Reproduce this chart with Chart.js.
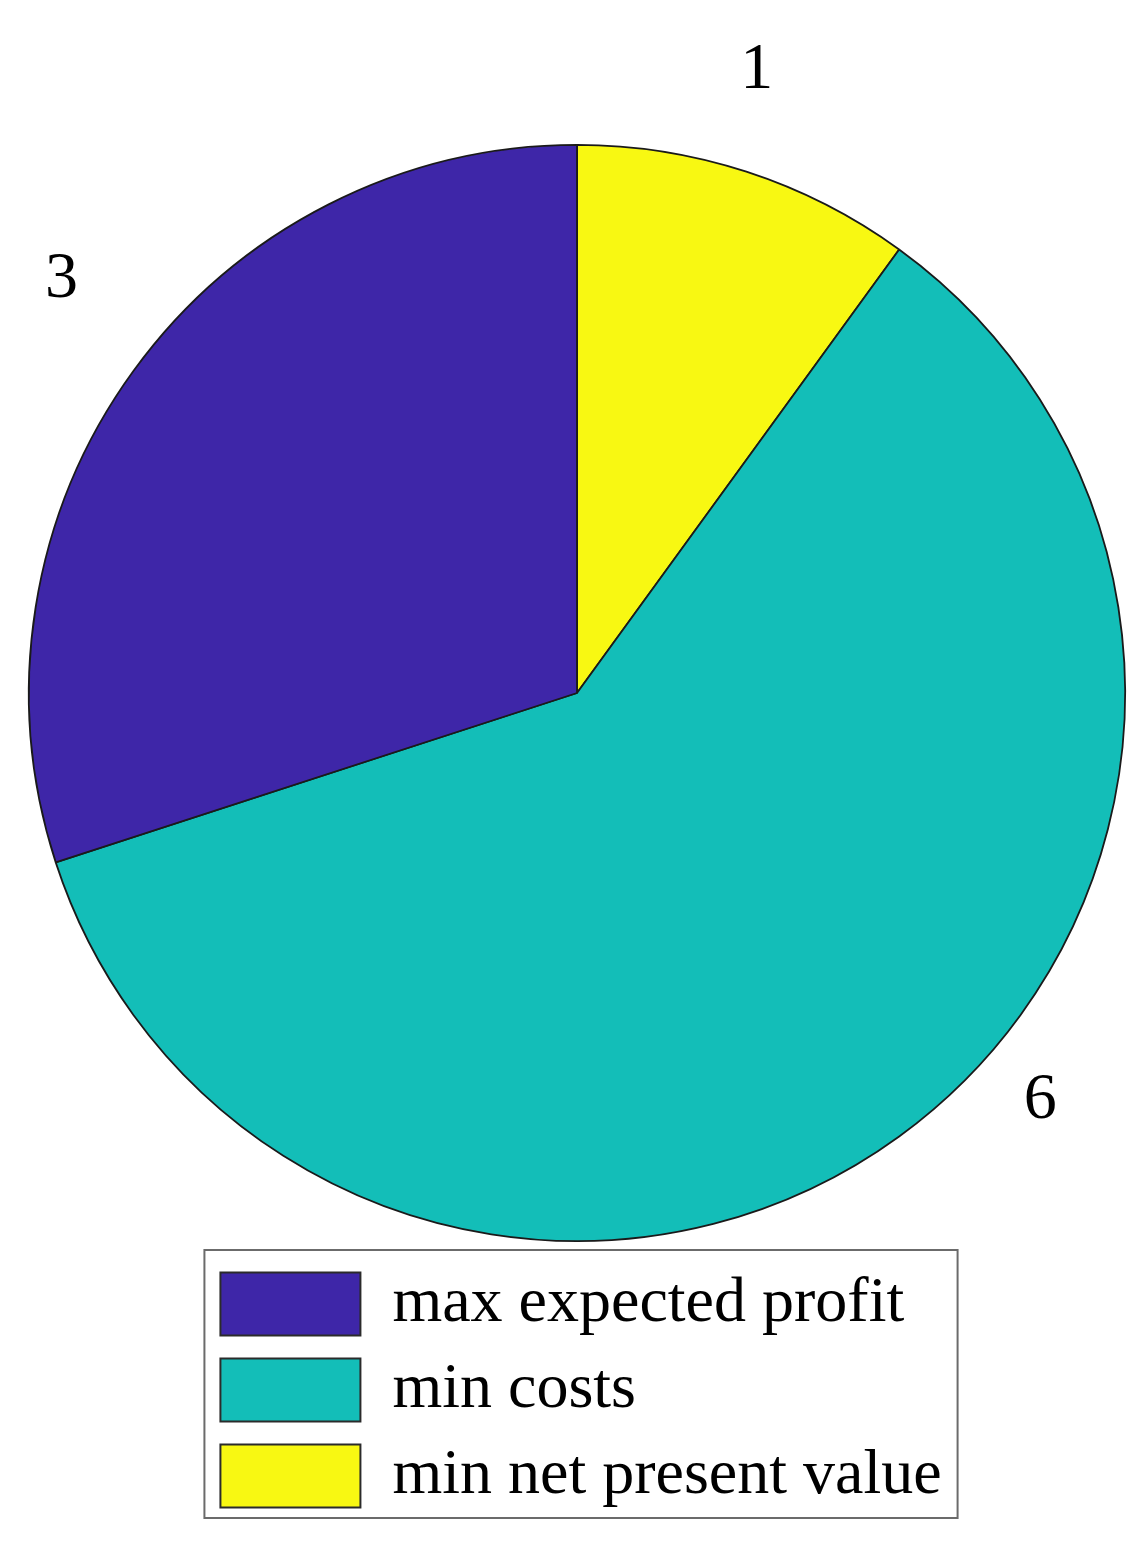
<!DOCTYPE html>
<html>
<head>
<meta charset="utf-8">
<script src="https://cdn.jsdelivr.net/npm/chart.js@4.4.1/dist/chart.umd.min.js"></script>
<style>
  html,body{margin:0;padding:0;background:#fff;}
  #wrap{width:1148px;height:1546px;}
</style>
</head>
<body>
<div id="wrap"><canvas id="ch-pie" width="1148" height="1546"></canvas></div>
<script>
// data, in legend order
const categories = ['max expected profit', 'min costs', 'min net present value'];
const counts = [3, 6, 1];
const colors = ['#3E26A8', '#13BEB8', '#F8F812'];

const SERIF = "'Liberation Serif', 'DejaVu Serif', serif";
Chart.defaults.font.family = SERIF;

// MATLAB goes counter-clockwise, Chart.js clockwise: reverse here, legend reverses back
const drawLabels = categories.slice().reverse();
const drawCounts = counts.slice().reverse();
const drawColors = colors.slice().reverse();

// count labels outside each slice
const sliceLabels = {
  id: 'sliceLabels',
  afterDatasetsDraw(chart, args, opts){
    const ctx = chart.ctx;
    const meta = chart.getDatasetMeta(0);
    ctx.save();
    ctx.font = `${opts.size}px ${SERIF}`;
    ctx.fillStyle = '#000';
    ctx.textAlign = 'center';
    ctx.textBaseline = 'alphabetic';
    meta.data.forEach((arc, i) => {
      const p = arc.getProps(['x','y','startAngle','endAngle','outerRadius'], true);
      const adj = (opts.adjust && opts.adjust[i]) || {};
      const a = (p.startAngle + p.endAngle)/2 + (adj.angle || 0)*Math.PI/180;
      const r = p.outerRadius*(adj.radius || opts.radius);
      ctx.fillText(String(chart.data.datasets[0].data[i]), p.x + r*Math.cos(a), p.y + r*Math.sin(a) + opts.size*0.33);
    });
    ctx.restore();
  }
};

// framed legend, centred under the pie, rows left aligned
const legendBox = {
  id: 'legendBox',
  afterLayout(chart, args, opts){
    const lg = chart.legend;
    const pad = lg.options.labels.padding;
    const w = Math.max(...lg.lineWidths) - pad + 2*opts.margin;
    const cx = (chart.chartArea.left + chart.chartArea.right)/2 + opts.shift;
    const x = cx - w/2;
    chart.$box = {x, y: lg.top, w, h: lg.height};
    lg.left = x + opts.margin - pad;
    lg.right = x + w - opts.margin + pad + 1;
  },
  afterDraw(chart, args, opts){
    const b = chart.$box;
    if(!b) return;
    const ctx = chart.ctx;
    ctx.save();
    ctx.strokeStyle = opts.color;
    ctx.lineWidth = opts.lineWidth;
    ctx.strokeRect(b.x, b.y, b.w, b.h);
    ctx.restore();
  }
};

new Chart(document.getElementById('ch-pie'), {
  type: 'pie',
  data: {
    labels: drawLabels,
    datasets: [{
      data: drawCounts,
      backgroundColor: drawColors,
      borderColor: '#1a1a1a',
      borderWidth: 1.8
    }]
  },
  options: {
    responsive: false,
    animation: false,
    layout: {padding: {left: 28, right: 22, top: 136, bottom: 28}},
    plugins: {
      tooltip: {enabled: false},
      legend: {
        position: 'bottom',
        align: 'start',
        reverse: true,
        maxHeight: 270,
        labels: {
          boxWidth: 140,
          boxHeight: 63,
          padding: 22,
          color: '#000',
          font: {family: SERIF, size: 64},
          generateLabels: c => Chart.overrides.doughnut.plugins.legend.labels.generateLabels(c)
            .map(l => Object.assign(l, {lineWidth: 2, strokeStyle: '#2b2b2b'}))
        }
      },
      sliceLabels: {size: 66, radius: 1.2, adjust: {0: {angle: -2, radius: 1.19}, 1: {angle: -13, radius: 1.12}, 2: {angle: 3, radius: 1.21}}},
      legendBox: {margin: 16, shift: 4, color: '#6b6b6b', lineWidth: 2}
    }
  },
  plugins: [sliceLabels, legendBox]
});
</script>
</body>
</html>
